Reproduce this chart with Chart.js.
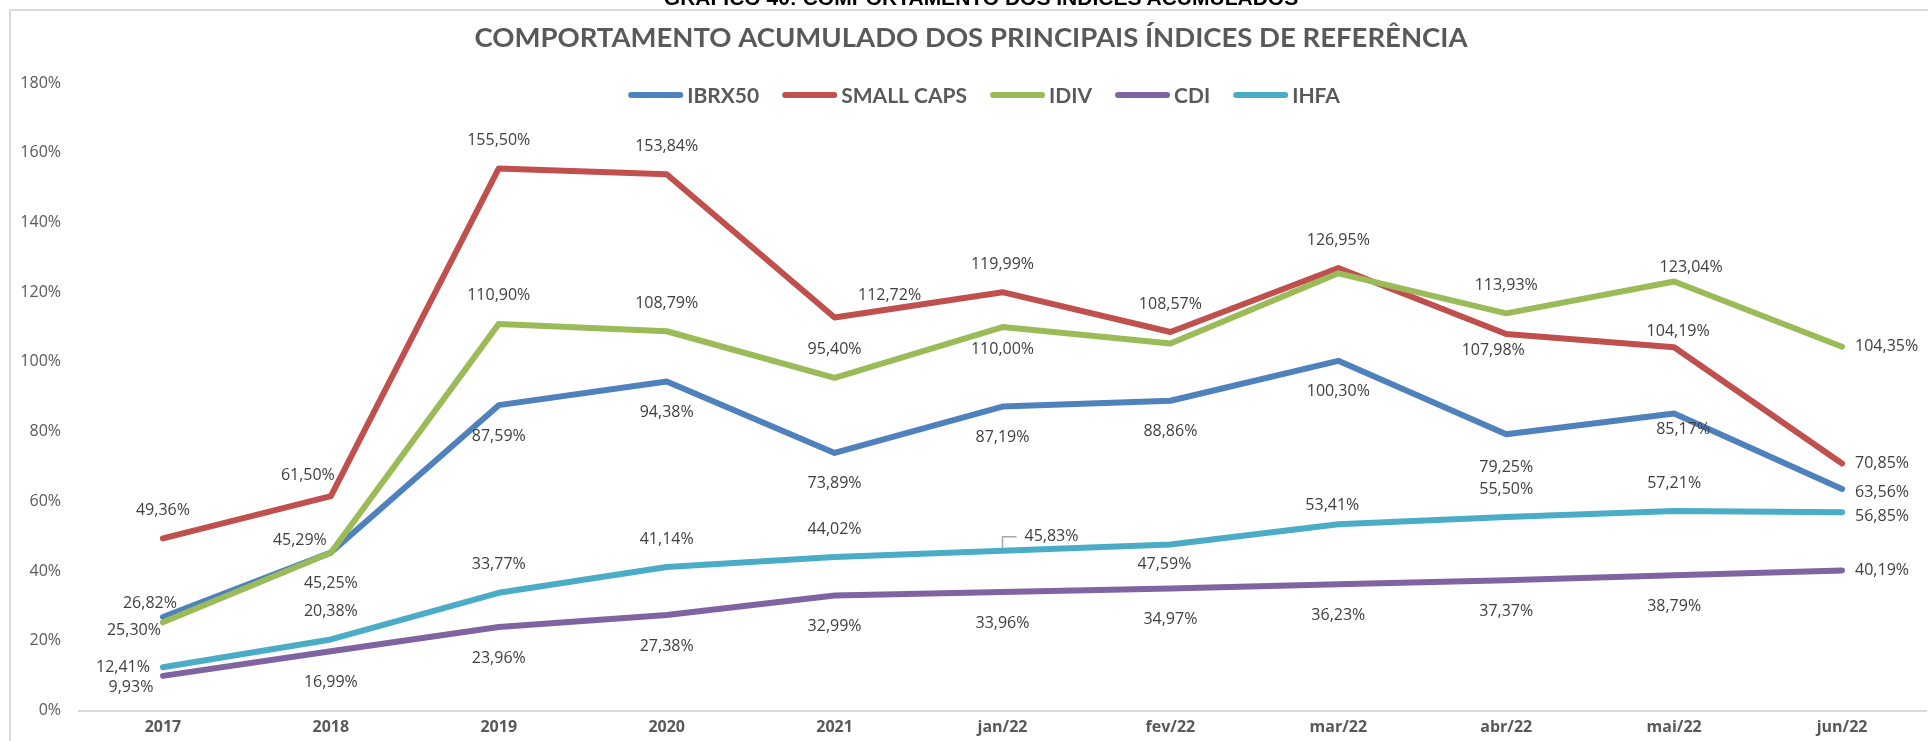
<!DOCTYPE html>
<html>
<head>
<meta charset="utf-8">
<title>Comportamento acumulado</title>
<script src="https://cdn.jsdelivr.net/npm/chart.js@4.4.1/dist/chart.umd.min.js"></script>
<style>
  html, body { margin: 0; padding: 0; background: #fff; overflow: hidden; }
  #frame { position: absolute; left: 9px; top: 9px; width: 2000px; height: 1000px;
           border-left: 2px solid #d9d9d9; border-top: 2px solid #d9d9d9; }
  #wrap { position: absolute; left: 0; top: 0; width: 1928px; height: 741px; }
  #header { position: absolute; left: 0; top: -12px; width: 1962px; text-align: center;
            font: bold 21px "Liberation Sans", Arial, sans-serif; line-height: 20px; color: #000; }
</style>
</head>
<body>
<div id="frame"></div>
<div id="wrap"><canvas id="chart"></canvas></div>
<div id="header">GRÁFICO 40: COMPORTAMENTO DOS ÍNDICES ACUMULADOS</div>
<script>
// dados (em %)
const categories = ["2017", "2018", "2019", "2020", "2021", "jan/22", "fev/22", "mar/22", "abr/22", "mai/22", "jun/22"];
const ibrx50 = [26.82, 45.29, 87.59, 94.38, 73.89, 87.19, 88.86, 100.30, 79.25, 85.17, 63.56];
const smallCaps = [49.36, 61.50, 155.50, 153.84, 112.72, 119.99, 108.57, 126.95, 107.98, 104.19, 70.85];
const idiv = [25.30, 45.25, 110.90, 108.79, 95.40, 110.00, 105.3, 125.4, 113.93, 123.04, 104.35];
const cdi = [9.93, 16.99, 23.96, 27.38, 32.99, 33.96, 34.97, 36.23, 37.37, 38.79, 40.19];
const ihfa = [12.41, 20.38, 33.77, 41.14, 44.02, 45.83, 47.59, 53.41, 55.50, 57.21, 56.85];
const yMin = 0, yMax = 180, yStep = 20;

// posicao dos rotulos: [dx, dy, alinhamento, linha guia]
const A = [0, -28], B = [0, 31], R = [13, 0, "left"], L = [-13, 0, "right"];
const labelPlaces = [
  [[-13, -14], [-31, -12], B, B, B, B, B, B, [0, 33], [9, 16], [13, 4, "left"]],
  [A, [-23, -21], A, A, [55, -22], A, A, A, [-13, 16], [4, -16], R],
  [[-29, 8], B, A, A, A, [0, 22], null, null, A, [17, -14], R],
  [[-32, 12], B, B, B, B, B, B, B, B, B, R],
  [L, A, A, A, A, [49, -14, "center", true], [-6, 20], [-6, -19], A, A, [13, 4, "left"]]
];

function fmt(v) {
  return v.toFixed(2).replace(".", ",") + "%";
}

// rotulos de dados
const dataLabels = {
  id: "dataLabels",
  afterDatasetsDraw(chart) {
    const ctx = chart.ctx;
    ctx.save();
    ctx.font = '16px "Open Sans"';
    ctx.fillStyle = "#404040";
    ctx.textBaseline = "middle";
    chart.data.datasets.forEach((ds, di) => {
      const meta = chart.getDatasetMeta(di);
      meta.data.forEach((pt, i) => {
        const p = labelPlaces[di][i];
        if (!p) return;
        const [dx, dy, align = "center", leader] = p;
        const text = fmt(ds.data[i]);
        const tx = pt.x + dx, ty = pt.y + dy;
        ctx.textAlign = align;
        ctx.fillText(text, tx, ty);
        if (leader) {
          const w = ctx.measureText(text).width;
          ctx.strokeStyle = "#a6a6a6";
          ctx.lineWidth = 1.5;
          ctx.beginPath();
          ctx.moveTo(pt.x, pt.y - 3);
          ctx.lineTo(pt.x, ty);
          ctx.lineTo(tx - w / 2 - 8, ty);
          ctx.stroke();
        }
      });
    });
    ctx.restore();
  }
};

// legenda desenhada dentro da area do grafico, como no Excel
const lineLegend = {
  id: "lineLegend",
  afterDraw(chart) {
    const ctx = chart.ctx;
    ctx.save();
    ctx.font = 'bold 21px Lato';
    ctx.textBaseline = "middle";
    ctx.textAlign = "left";
    const lineW = 55, gapText = 4, gapItem = 23, y = 95;
    const items = chart.data.datasets.map((d) => ({
      text: d.label, color: d.borderColor, w: ctx.measureText(d.label).width
    }));
    const total = items.reduce((s, it) => s + lineW + gapText + it.w, 0) + gapItem * (items.length - 1);
    let x = 984 - total / 2;
    items.forEach((it) => {
      ctx.strokeStyle = it.color;
      ctx.lineWidth = 6;
      ctx.lineCap = "round";
      ctx.beginPath();
      ctx.moveTo(x + 3, y);
      ctx.lineTo(x + lineW - 3, y);
      ctx.stroke();
      ctx.fillStyle = "#595959";
      ctx.fillText(it.text, x + lineW + gapText, y + 1);
      x += lineW + gapText + it.w + gapItem;
    });
    ctx.restore();
  }
};

function makeSet(label, data, color, order) {
  return {
    label: label,
    data: data,
    borderColor: color,
    backgroundColor: color,
    borderWidth: 6,
    borderCapStyle: "round",
    borderJoinStyle: "round",
    pointRadius: 0,
    tension: 0,
    order: order
  };
}

function draw() {
  const ctx = document.getElementById("chart").getContext("2d");
  new Chart(ctx, {
    type: "line",
    data: {
      labels: categories,
      datasets: [
        makeSet("IBRX50", ibrx50, "#4f81bd", 5),
        makeSet("SMALL CAPS", smallCaps, "#c0504d", 4),
        makeSet("IDIV", idiv, "#9bbb59", 3),
        makeSet("CDI", cdi, "#8064a2", 2),
        makeSet("IHFA", ihfa, "#4bacc6", 1)
      ]
    },
    options: {
      responsive: true,
      maintainAspectRatio: false,
      animation: false,
      layout: { padding: { left: 16, right: 2, top: 0, bottom: 0 } },
      plugins: {
        legend: { display: false },
        tooltip: { enabled: false },
        title: {
          display: true,
          text: "COMPORTAMENTO ACUMULADO DOS PRINCIPAIS ÍNDICES DE REFERÊNCIA",
          color: "#595959",
          font: { family: "Lato", size: 27.5, weight: "bold" },
          padding: { top: 21.5, bottom: 28.5 }
        }
      },
      scales: {
        x: {
          offset: true,
          grid: { display: false, drawTicks: false },
          border: { display: true, color: "#d9d9d9", width: 2 },
          ticks: { color: "#595959", padding: 7, font: { family: "Open Sans", size: 16, weight: "bold" } },
          afterFit: (s) => { s.height = 30.5; }
        },
        y: {
          min: yMin,
          max: yMax,
          grid: { display: false, drawTicks: false },
          border: { display: false },
          ticks: {
            stepSize: yStep,
            padding: 18,
            color: "#595959",
            font: { family: "Open Sans", size: 16 },
            callback: (v) => v + "%"
          },
          afterFit: (s) => { s.width = 63; }
        }
      }
    },
    plugins: [dataLabels, lineLegend]
  });
}

Promise.all([
  document.fonts.load('bold 27.5px Lato'),
  document.fonts.load('bold 21px Lato'),
  document.fonts.load('16px "Open Sans"'),
  document.fonts.load('bold 16px "Open Sans"')
]).then(draw, draw);
</script>
</body>
</html>
